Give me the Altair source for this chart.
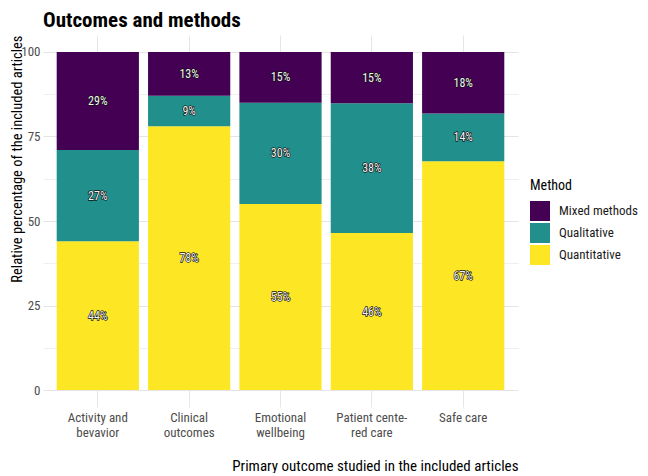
import altair as alt
import pandas as pd

outcomes = ["Activity and\nbevavior", "Clinical\noutcomes", "Emotional\nwellbeing",
            "Patient cente-\nred care", "Safe care"]
methods = ["Mixed methods", "Qualitative", "Quantitative"]
quantitative = [44, 78, 55, 46, 67]
qualitative = [27, 9, 30, 38, 14]
mixed = [29, 13, 15, 15, 18]
colors = ["#440154", "#21908C", "#FDE725"]
y_ticks = [0, 12.5, 25, 37.5, 50, 62.5, 75, 87.5, 100]
chart_title = ["Outcomes and methods"]

rows = []
for i, o in enumerate(outcomes):
    for m, vals, order in [("Quantitative", quantitative, 0),
                           ("Qualitative", qualitative, 1),
                           ("Mixed methods", mixed, 2)]:
        rows.append({"outcome": o, "method": m, "value": vals[i], "order": order})
df = pd.DataFrame(rows)

FONT = "Liberation Sans Narrow, Roboto Condensed, Liberation Sans, sans-serif"

base = alt.Chart(df).transform_stack(
    stack="value", groupby=["outcome"], as_=["s0", "s1"], offset="normalize",
    sort=[alt.SortField("order", order="ascending")]
).transform_calculate(
    lo="datum.s0*100", hi="datum.s1*100", mid="(datum.s0+datum.s1)*50",
    label="datum.value + '%'"
)

x_enc = alt.X(
    "outcome:N", sort=outcomes,
    title="Primary outcome studied in the included articles",
    scale=alt.Scale(paddingInner=0.1, paddingOuter=0.15),
    axis=alt.Axis(
        labelAngle=0, labelExpr="split(datum.label, '\\n')", labelLineHeight=15,
        labelFontSize=13, labelColor="#4d4d4d", labelPadding=4, labelFont=FONT,
        grid=True, bandPosition=0.5, gridColor="#e6e6e6", gridWidth=1,
        domain=False, ticks=False,
        titleFont=FONT, titleFontSize=15, titleFontWeight="normal", titleColor="#000000",
        titleX=475, titleY=58, titleAlign="right", titleBaseline="middle", titleAnchor="end",
    ),
)

y_scale = alt.Scale(domain=[-5, 105], nice=False, zero=False)

bars = base.mark_bar().encode(
    x=x_enc,
    y=alt.Y(
        "lo:Q", stack=None, scale=y_scale,
        title="Relative percentage of the included articles",
        axis=alt.Axis(
            values=y_ticks,
            labelExpr="datum.value % 25 === 0 ? datum.label : ''",
            labelFontSize=13, labelColor="#4d4d4d", labelPadding=3, labelFont=FONT,
            grid=True,
            gridColor={"condition": {"test": "datum.value % 25 === 0", "value": "#e4e4e4"},
                       "value": "#efefef"},
            domain=False, ticks=False,
            titleFont=FONT, titleFontSize=14.5, titleFontWeight="normal", titleColor="#000000",
            titleX=-26, titleY=0, titleAngle=270, titleAlign="right",
            titleBaseline="middle", titleAnchor="end",
        ),
    ),
    y2="hi:Q",
    color=alt.Color(
        "method:N",
        scale=alt.Scale(domain=methods, range=colors),
        legend=alt.Legend(
            title="Method", orient="none", legendX=487, legendY=144,
            symbolType="square", symbolSize=400, symbolStrokeWidth=0, symbolOpacity=1,
            titleFont=FONT, titleFontSize=14, titleFontWeight="normal", titleColor="#000000",
            titlePadding=8, labelFont=FONT, labelFontSize=13, labelColor="#1a1a1a",
            labelOffset=9, rowPadding=2,
        ),
    ),
)

halo = base.mark_text(font=FONT, fontSize=12, color="black", stroke="#111111",
                      strokeWidth=1.3, baseline="middle").encode(
    x=alt.X("outcome:N", sort=outcomes),
    y=alt.Y("mid:Q", stack=None),
    text="label:N",
)
labels = base.mark_text(font=FONT, fontSize=12, color="#f4f4f4",
                        baseline="middle").encode(
    x=alt.X("outcome:N", sort=outcomes),
    y=alt.Y("mid:Q", stack=None),
    text="label:N",
)

title_layer = alt.Chart(pd.DataFrame({"t": chart_title})).mark_text(
    font=FONT, fontSize=21, fontWeight="bold", color="#000000",
    align="left", baseline="alphabetic",
).encode(x=alt.value(0), y=alt.value(-8), text="t:N")

chart = alt.layer(bars, halo, labels, title_layer).properties(
    width=475, height=372,
    autosize=alt.AutoSizeParams(type="none"),
    padding={"left": 35, "top": 27, "right": 122, "bottom": 66},
).configure_view(stroke=None)

chart.save("out.html", embed_options={"renderer": "svg", "actions": False})
